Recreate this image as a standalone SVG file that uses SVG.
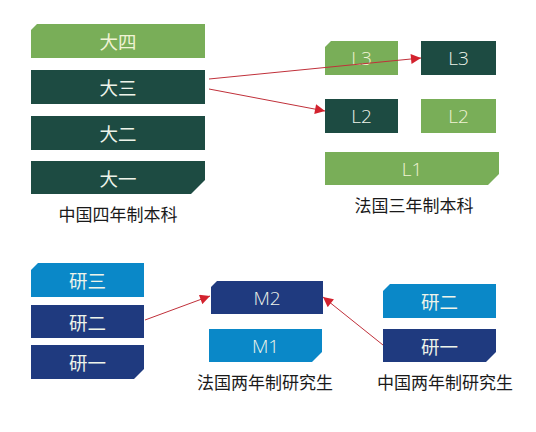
<svg xmlns="http://www.w3.org/2000/svg" width="536" height="432" viewBox="0 0 536 432">
<defs>
<style>
.lg{fill:#79ae58}
.dg{fill:#1d4b42}
.lb{fill:#0a88c8}
.nv{fill:#1f3a7f}
.t{font-family:"Noto Sans CJK SC","Noto Sans",sans-serif;font-size:18.5px;fill:#eef4ea;text-anchor:middle;dominant-baseline:central}
.e{font-family:"Open Sans","Liberation Sans",sans-serif;font-size:19px;font-weight:300}
.tl{fill:#f0f3d4}
.cap{font-family:"Noto Sans CJK SC","Noto Sans",sans-serif;font-size:17px;fill:#1a1a1a;text-anchor:middle}
.c{stroke:#c0303a;stroke-width:1;fill:none;marker-end:url(#ah)}
</style>
<marker id="ah" viewBox="0 0 10 10" refX="10" refY="5" markerWidth="11" markerHeight="10" markerUnits="userSpaceOnUse" orient="auto">
<path d="M0,0 L10,5 L0,10 z" fill="#d3222e"/>
</marker>
</defs>
<rect width="536" height="432" fill="#ffffff"/>

<g id="cn-ug">
<g id="d4"><path class="lg" d="M37,24 H205 V58 H31 V30 Z"/><text class="t tl" x="118" y="41">大四</text></g>
<g id="d3"><rect class="dg" x="31" y="70" width="174" height="34"/><text class="t" x="118" y="87">大三</text></g>
<g id="d2"><rect class="dg" x="31" y="116" width="174" height="34"/><text class="t" x="118" y="133">大二</text></g>
<g id="d1"><path class="dg" d="M31,161 H205 V180 L191,194 H31 Z"/><text class="t" x="118" y="177.5">大一</text></g>
<text class="cap" x="118" y="221">中国四年制本科</text>
</g>

<g id="fr-ug">
<g id="l3a"><path class="lg" d="M331,41 H398 V75 H325 V47 Z"/><text class="t e tl" x="361.5" y="58">L3</text></g>
<g id="l3b"><rect class="dg" x="421" y="41" width="75" height="34"/><text class="t e" x="458.5" y="58">L3</text></g>
<g id="l2a"><rect class="dg" x="325" y="99" width="73" height="34"/><text class="t e" x="361.5" y="116">L2</text></g>
<g id="l2b"><rect class="lg" x="421" y="99" width="75" height="34"/><text class="t e tl" x="458.5" y="116">L2</text></g>
<g id="l1"><path class="lg" d="M325,152 H499 V174 L488,185 H325 Z"/><text class="t e tl" x="412" y="168.5">L1</text></g>
<text class="cap" x="414" y="212">法国三年制本科</text>
</g>

<g id="cn-pg">
<g id="y3"><path class="lb" d="M38,263 H144 V297 H31 V270 Z"/><text class="t" x="87.5" y="280">研三</text></g>
<g id="y2"><rect class="nv" x="31" y="305" width="113" height="33"/><text class="t" x="87.5" y="321.5">研二</text></g>
<g id="y1"><path class="nv" d="M31,345 H144 V369 L134,379 H31 Z"/><text class="t" x="87.5" y="362">研一</text></g>
</g>

<g id="fr-pg">
<g id="m2"><path class="nv" d="M217,281 H323 V314 H211 V287 Z"/><text class="t e" x="267" y="297.5">M2</text></g>
<g id="m1"><path class="lb" d="M209,329 H322 V352 L312,362 H209 Z"/><text class="t e" x="265.5" y="345.5">M1</text></g>
<text class="cap" x="265" y="389">法国两年制研究生</text>
</g>

<g id="cn-pg2">
<g id="y2b"><path class="lb" d="M390,284 H496 V318 H383 V291 Z"/><text class="t" x="439.5" y="301">研二</text></g>
<g id="y1b"><path class="nv" d="M383,329 H496 V352 L486,362 H383 Z"/><text class="t" x="439.5" y="345.5">研一</text></g>
<text class="cap" x="445" y="389">中国两年制研究生</text>
</g>

<g id="connectors">
<line class="c" x1="209" y1="79" x2="421" y2="58"/>
<line class="c" x1="209" y1="89" x2="325" y2="111"/>
<line class="c" x1="145" y1="320" x2="210" y2="296"/>
<line class="c" x1="383" y1="345" x2="323" y2="297"/>
</g>
</svg>
